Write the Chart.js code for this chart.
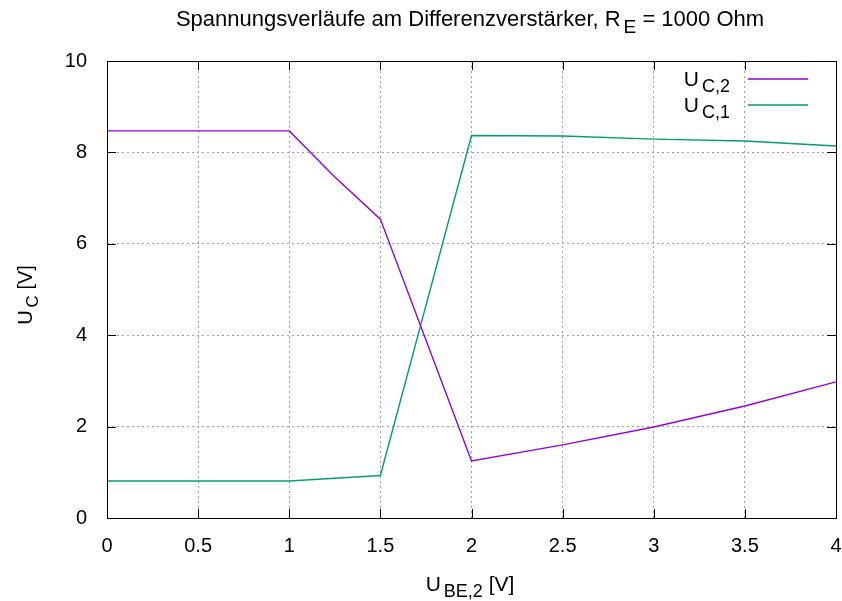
<!DOCTYPE html>
<html>
<head>
<meta charset="utf-8">
<script src="https://cdn.jsdelivr.net/npm/chart.js@4.4.0/dist/chart.umd.min.js"></script>
<style>
  body { margin: 0; background: #fff; }
  canvas { display: block; }
</style>
</head>
<body>
<canvas id="chart" width="842" height="601"></canvas>
<script>
// U_BE,2 in V
const xVals = [0, 0.5, 1, 1.25, 1.5, 2, 2.5, 3, 3.5, 4];
// U_C,2 and U_C,1 in V
const uc2 = [8.47, 8.47, 8.47, 7.46, 6.54, 1.25, 1.6, 1.99, 2.45, 2.98];
const uc1 = [0.81, 0.81, 0.81, 0.87, 0.93, 8.37, 8.36, 8.29, 8.25, 8.14];

const FONT = '"Liberation Sans", Arial, sans-serif';

function pts(ys) {
  return xVals.map((x, i) => ({ x: x, y: ys[i] }));
}

// text with subscript parts, parts = [[text, isSub], ...]
function setFont(ctx, size, sub) {
  ctx.font = (sub ? Math.round(size * 0.85) : size) + 'px ' + FONT;
}
function richWidth(ctx, parts, size) {
  let w = 0;
  parts.forEach(p => {
    setFont(ctx, size, p[1]);
    w += ctx.measureText(p[0]).width + (p[1] ? 3 : 0);
  });
  return w;
}
function drawRich(ctx, parts, x, y, size, align) {
  const w = richWidth(ctx, parts, size);
  let cx = x;
  if (align === 'center') cx = x - w / 2;
  if (align === 'right') cx = x - w;
  ctx.textBaseline = 'alphabetic';
  ctx.textAlign = 'left';
  parts.forEach(p => {
    setFont(ctx, size, p[1]);
    if (p[1]) cx += 3;
    ctx.fillText(p[0], cx, p[1] ? y + size * 0.3 : y);
    cx += ctx.measureText(p[0]).width;
  });
}

const extras = {
  id: 'extras',
  afterDatasetsDraw(chart) {
    const ctx = chart.ctx;
    const a = chart.chartArea;
    const xs = chart.scales.x, ys = chart.scales.y;
    ctx.save();
    ctx.strokeStyle = '#000';
    ctx.lineWidth = 1;
    ctx.setLineDash([]);
    // inner tick marks
    ctx.beginPath();
    xs.ticks.forEach(t => {
      const px = Math.round(xs.getPixelForValue(t.value)) + 0.5;
      ctx.moveTo(px, a.bottom); ctx.lineTo(px, a.bottom - 9);
      ctx.moveTo(px, a.top); ctx.lineTo(px, a.top + 9);
    });
    ys.ticks.forEach(t => {
      const py = Math.round(ys.getPixelForValue(t.value)) + 0.5;
      ctx.moveTo(a.left, py); ctx.lineTo(a.left + 9, py);
      ctx.moveTo(a.right, py); ctx.lineTo(a.right - 9, py);
    });
    ctx.stroke();
    // frame
    ctx.strokeRect(Math.round(a.left) + 0.5, Math.round(a.top) + 0.5,
      Math.round(a.right - a.left), Math.round(a.bottom - a.top));

    ctx.fillStyle = '#000';
    // title
    drawRich(ctx, [['Spannungsverläufe am Differenzverstärker, R', false], ['E', true], [' = 1000 Ohm', false]],
      470, 26, 22, 'center');
    // x axis title
    drawRich(ctx, [['U', false], ['BE,2', true], [' [V]', false]], 470, 591, 21, 'center');
    // y axis title
    ctx.save();
    ctx.translate(32, 295);
    ctx.rotate(-Math.PI / 2);
    drawRich(ctx, [['U', false], ['C', true], [' [V]', false]], 0, 0, 20, 'center');
    ctx.restore();

    // legend
    const items = [['C,2', chart.data.datasets[0].borderColor, 86],
                   ['C,1', chart.data.datasets[1].borderColor, 112]];
    items.forEach(it => {
      ctx.fillStyle = '#000';
      drawRich(ctx, [['U', false], [it[0], true]], 730, it[2], 21, 'right');
      ctx.strokeStyle = it[1];
      ctx.lineWidth = 1.5;
      ctx.beginPath();
      ctx.moveTo(748, it[2] - 7);
      ctx.lineTo(808, it[2] - 7);
      ctx.stroke();
    });
    ctx.restore();
  }
};

new Chart(document.getElementById('chart'), {
  type: 'line',
  data: {
    datasets: [
      { label: 'U_C,2', data: pts(uc2), borderColor: '#9400d3', borderWidth: 1.4,
        pointRadius: 0, tension: 0, fill: false },
      { label: 'U_C,1', data: pts(uc1), borderColor: '#009e73', borderWidth: 1.4,
        pointRadius: 0, tension: 0, fill: false }
    ]
  },
  options: {
    responsive: false,
    animation: false,
    layout: { padding: { top: 61, right: 6, left: 0, bottom: 0 } },
    plugins: { legend: { display: false }, title: { display: false }, tooltip: { enabled: false } },
    scales: {
      x: {
        type: 'linear', min: 0, max: 4,
        ticks: { stepSize: 0.5, color: '#000', padding: 16, maxRotation: 0,
          callback: v => String(v),
          font: { family: FONT, size: 20 } },
        grid: { color: '#a0a0a0', drawTicks: false, lineWidth: 1 },
        border: { display: false, dash: [2, 3] },
        afterFit(s) { s.height = 83; s.paddingLeft = 0; s.paddingRight = 0; }
      },
      y: {
        min: 0, max: 10,
        ticks: { stepSize: 2, color: '#000', padding: 20,
          font: { family: FONT, size: 20 } },
        grid: { color: '#a0a0a0', drawTicks: false, lineWidth: 1 },
        border: { display: false, dash: [2, 3] },
        afterFit(s) { s.width = 107; s.paddingTop = 0; s.paddingBottom = 0; }
      }
    }
  },
  plugins: [extras]
});
</script>
</body>
</html>
